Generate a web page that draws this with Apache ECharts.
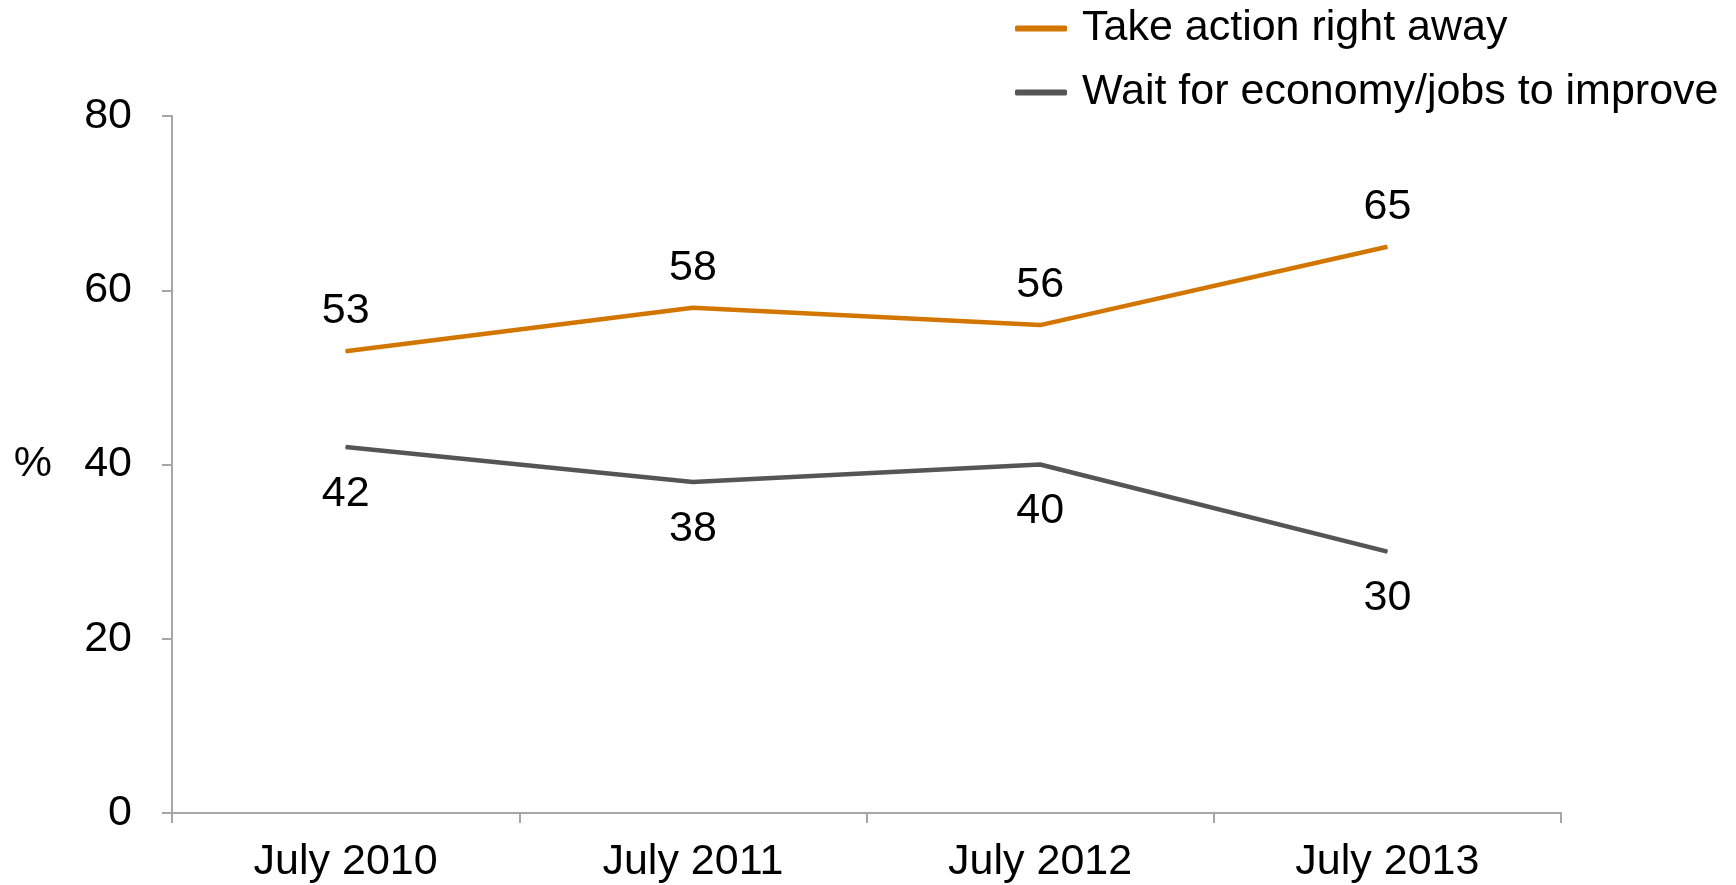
<!DOCTYPE html>
<html>
<head>
    <meta charset="utf-8">
    <title>Take action vs wait</title>
    <script src="https://cdn.jsdelivr.net/npm/echarts@6/dist/echarts.min.js"></script>
    <style>
        html, body { margin: 0; padding: 0; background: #fff; }
        #main { width: 1736px; height: 885px; }
    </style>
</head>
<body>
<div id="main"></div>
<script>
    var categories = ['July 2010', 'July 2011', 'July 2012', 'July 2013'];
    var takeAction = [53, 58, 56, 65];
    var waitEconomy = [42, 38, 40, 30];
    var seriesNames = ['Take action right away', 'Wait for economy/jobs to improve'];
    var yTicks = [0, 20, 40, 60, 80];

    var font = 'Liberation Sans, Arial, sans-serif';
    var myChart = echarts.init(document.getElementById('main'));
    var option = {
        animation: false,
        textStyle: {fontFamily: font},
        grid: {left: 172, top: 116, right: 175, bottom: 72},
        legend: {
            orient: 'vertical',
            left: 1010,
            top: 2,
            itemWidth: 52,
            itemHeight: 6,
            itemGap: 21,
            icon: 'roundRect',
            textStyle: {fontSize: 43, color: '#000', fontFamily: font, padding: [0, 0, 0, 10]},
            data: seriesNames
        },
        xAxis: {
            type: 'category',
            data: categories,
            boundaryGap: true,
            axisLine: {lineStyle: {color: '#a6a6a6', width: 2}},
            axisTick: {show: true, length: 10, lineStyle: {color: '#a6a6a6', width: 2}},
            axisLabel: {fontSize: 43, color: '#000', margin: 28, fontFamily: font}
        },
        yAxis: {
            type: 'value',
            min: yTicks[0],
            max: yTicks[yTicks.length - 1],
            interval: 20,
            name: '%',
            nameLocation: 'middle',
            nameRotate: 0,
            nameGap: 120,
            nameTextStyle: {fontSize: 43, color: '#000', fontFamily: font},
            splitLine: {show: false},
            axisLine: {show: true, lineStyle: {color: '#a6a6a6', width: 2}},
            axisTick: {show: true, length: 10, lineStyle: {color: '#a6a6a6', width: 2}},
            axisLabel: {fontSize: 43, color: '#000', margin: 40, fontFamily: font}
        },
        series: [
            {
                name: seriesNames[0],
                type: 'line',
                data: takeAction,
                symbol: 'circle',
                symbolSize: 1,
                itemStyle: {color: '#d27600'},
                lineStyle: {color: '#d27600', width: 4.5},
                label: {show: true, position: 'top', distance: 18, fontSize: 43, color: '#000', fontFamily: font}
            },
            {
                name: seriesNames[1],
                type: 'line',
                data: waitEconomy,
                symbol: 'circle',
                symbolSize: 1,
                itemStyle: {color: '#555555'},
                lineStyle: {color: '#555555', width: 4.5},
                label: {show: true, position: 'bottom', distance: 25, fontSize: 43, color: '#000', fontFamily: font}
            }
        ]
    };
    myChart.setOption(option);
</script>
</body>
</html>
